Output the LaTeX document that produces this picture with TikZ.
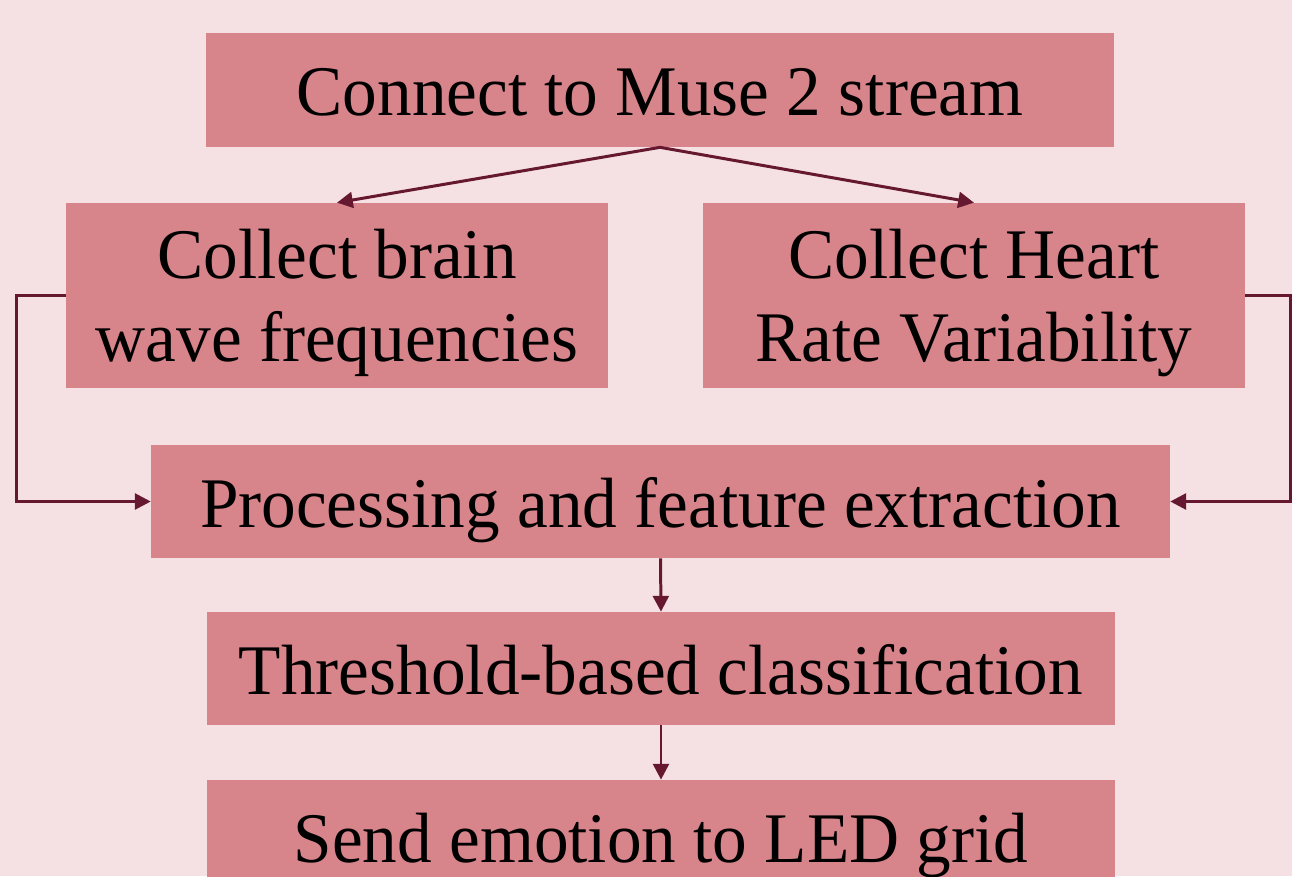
\documentclass[tikz,border=0pt]{standalone}
\usepackage{fontspec}
\setmainfont{Liberation Serif}[FakeStretch=0.973]
\usetikzlibrary{arrows.meta}
\usetikzlibrary{positioning}
\definecolor{fond}{HTML}{F5E1E3}
\definecolor{boite}{HTML}{D8848B}
\definecolor{fleche}{HTML}{65182F}

\begin{document}
\begin{tikzpicture}
			\begin{scope}[x=0.02cm,y=-0.02cm]
				% fond et cadre de l'image
				\useasboundingbox (0,0) rectangle (1292,876);
				\clip (0,0) rectangle (1292,876);
				\fill[fond] (0,0) rectangle (1292,876);
				\tikzset{etape/.style={rectangle,fill=boite,inner sep=0pt,align=center,text depth=0pt,font=\fontsize{40.5}{47}\selectfont},
					ligne/.style={etape,text height=29.5pt},
					lien/.style={draw=fleche,line width=1.7pt,-{Triangle[length=9pt,width=9pt]}}}
				% description et nommage des noeuds
				\node (MUSE) at (660,90) [ligne,minimum width=18.16cm,minimum height=2.28cm] {Connect to Muse 2 stream};
				\node (ONDES) at (337,295.5) [etape,minimum width=10.84cm,minimum height=3.7cm] {Collect brain\\wave frequencies};
				\node (HRV) at (974,295.5) [etape,minimum width=10.84cm,minimum height=3.7cm] {Collect Heart\\Rate Variability};
				\node (TRAIT) at (660.5,501.5) [ligne,minimum width=20.38cm,minimum height=2.26cm] {Processing and feature extraction};
				\node (SEUIL) at (661,668.5) [ligne,minimum width=18.16cm,minimum height=2.26cm] {Threshold-based classification};
				\node (LED) at (661,836.5) [ligne,minimum width=18.16cm,minimum height=2.26cm] {Send emotion to LED grid};
				% description des arêtes
				\draw[lien] (MUSE.south) -- (ONDES.north);
				\draw[lien] (MUSE.south) -- (HRV.north);
				\draw[lien] (ONDES.west) -- ++(-49,0) |- (TRAIT.west);
				\draw[lien] (HRV.east) -- ++(45,0) |- (TRAIT.east);
				\draw[lien] (TRAIT.south) -- (SEUIL.north);
				\draw[lien] (SEUIL.south) -- (LED.north);
			\end{scope}
		\end{tikzpicture}
\end{document}
